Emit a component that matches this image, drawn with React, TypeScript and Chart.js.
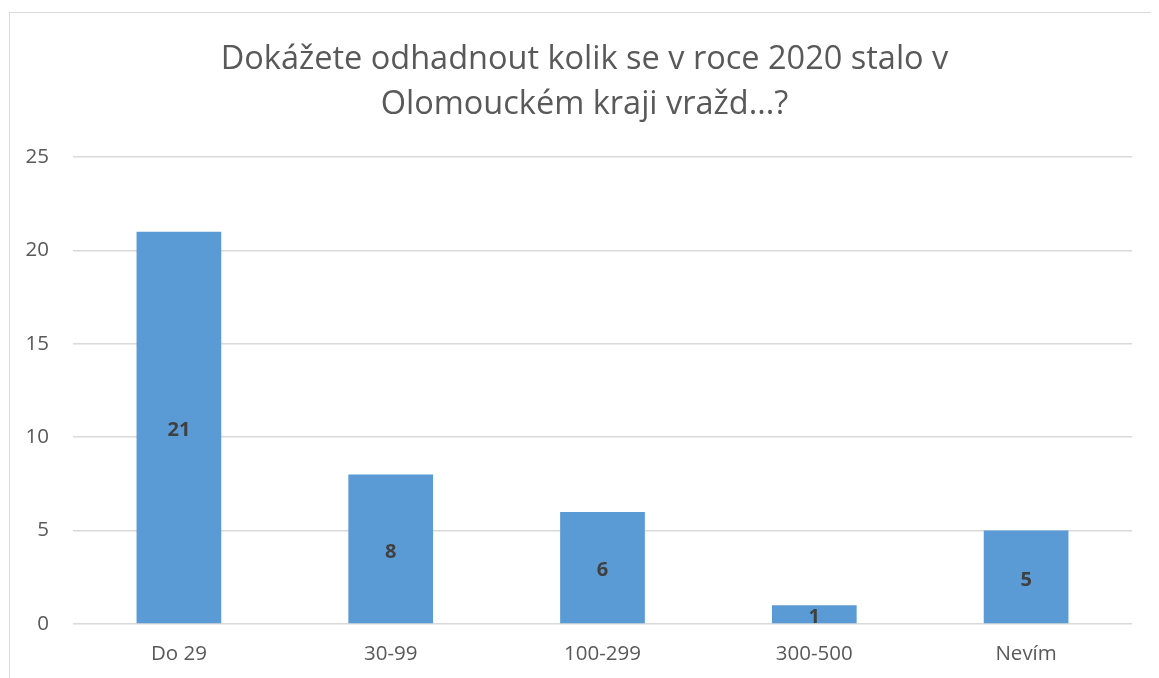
import React, { useEffect, useRef } from "react";
import { Chart, registerables } from "chart.js";

Chart.register(...registerables);

const categories: string[] = ["Do 29", "30-99", "100-299", "300-500", "Nevím"];
const counts: number[] = [21, 8, 6, 1, 5];
const titleLines: string[] = ["Dokážete odhadnout kolik se v roce 2020 stalo v", "Olomouckém kraji vražd...?"];
const yMin = 0;
const yMax = 25;
const yStep = 5;

const FONT = "'Open Sans', 'Liberation Sans', sans-serif";

const titlePlugin = {
  id: "customTitle",
  afterDraw(chart: any) {
    const ctx = chart.ctx;
    ctx.save();
    ctx.fillStyle = "#595959";
    ctx.font = `32.5px ${FONT}`;
    ctx.textAlign = "center";
    ctx.textBaseline = "middle";
    const cx = chart.width / 2 + 1;
    ctx.fillText(titleLines[0], cx, 52);
    ctx.fillText(titleLines[1], cx, 97);
    ctx.restore();
  },
};

const labelPlugin = {
  id: "barLabels",
  afterDatasetsDraw(chart: any) {
    const ctx = chart.ctx;
    const meta = chart.getDatasetMeta(0);
    ctx.save();
    ctx.fillStyle = "#404040";
    ctx.font = `bold 20px ${FONT}`;
    ctx.textAlign = "center";
    ctx.textBaseline = "middle";
    meta.data.forEach((bar: any, i: number) => {
      const y = (bar.y + bar.base) / 2 + 3;
      ctx.fillText(String(counts[i]), bar.x, y);
    });
    ctx.restore();
  },
};

export default function App() {
  const ref = useRef<HTMLCanvasElement | null>(null);
  useEffect(() => {
    if (!ref.current) return;
    const chart = new Chart(ref.current, {
      type: "bar",
      data: {
        labels: categories,
        datasets: [
          {
            data: counts,
            backgroundColor: "#5B9BD5",
            borderWidth: 0,
            barPercentage: 0.4,
            categoryPercentage: 1,
          },
        ],
      },
      options: {
        animation: false,
        responsive: false,
        layout: { padding: { top: 149, right: 27, left: 0, bottom: 0 } },
        plugins: { legend: { display: false }, tooltip: { enabled: false }, title: { display: false } },
        scales: {
          x: {
            grid: { display: false, drawTicks: false },
            border: { display: false },
            ticks: { color: "#595959", font: { family: FONT, size: 20.5 }, padding: 18, maxRotation: 0 },
            afterFit(scale: any) {
              scale.height = 54;
            },
          },
          y: {
            min: yMin,
            max: yMax,
            ticks: { stepSize: yStep, color: "#595959", font: { family: FONT, size: 20.5 }, padding: 24 },
            grid: { color: "#D9D9D9", lineWidth: 1.5, drawTicks: false },
            border: { display: false },
            afterFit(scale: any) {
              scale.width = 65;
            },
          },
        },
      },
      plugins: [titlePlugin, labelPlugin],
    });
    return () => chart.destroy();
  }, []);

  return (
    <div style={{ position: "relative", width: 1151, height: 670, overflow: "hidden", background: "#fff" }}>
      <div
        style={{
          position: "absolute",
          left: 1,
          top: 4,
          width: 1300,
          height: 900,
          border: "1.5px solid #D9D9D9",
          boxSizing: "border-box",
        }}
      />
      <canvas ref={ref} width={1151} height={670} style={{ position: "absolute", left: 0, top: 0 }} />
    </div>
  );
}
